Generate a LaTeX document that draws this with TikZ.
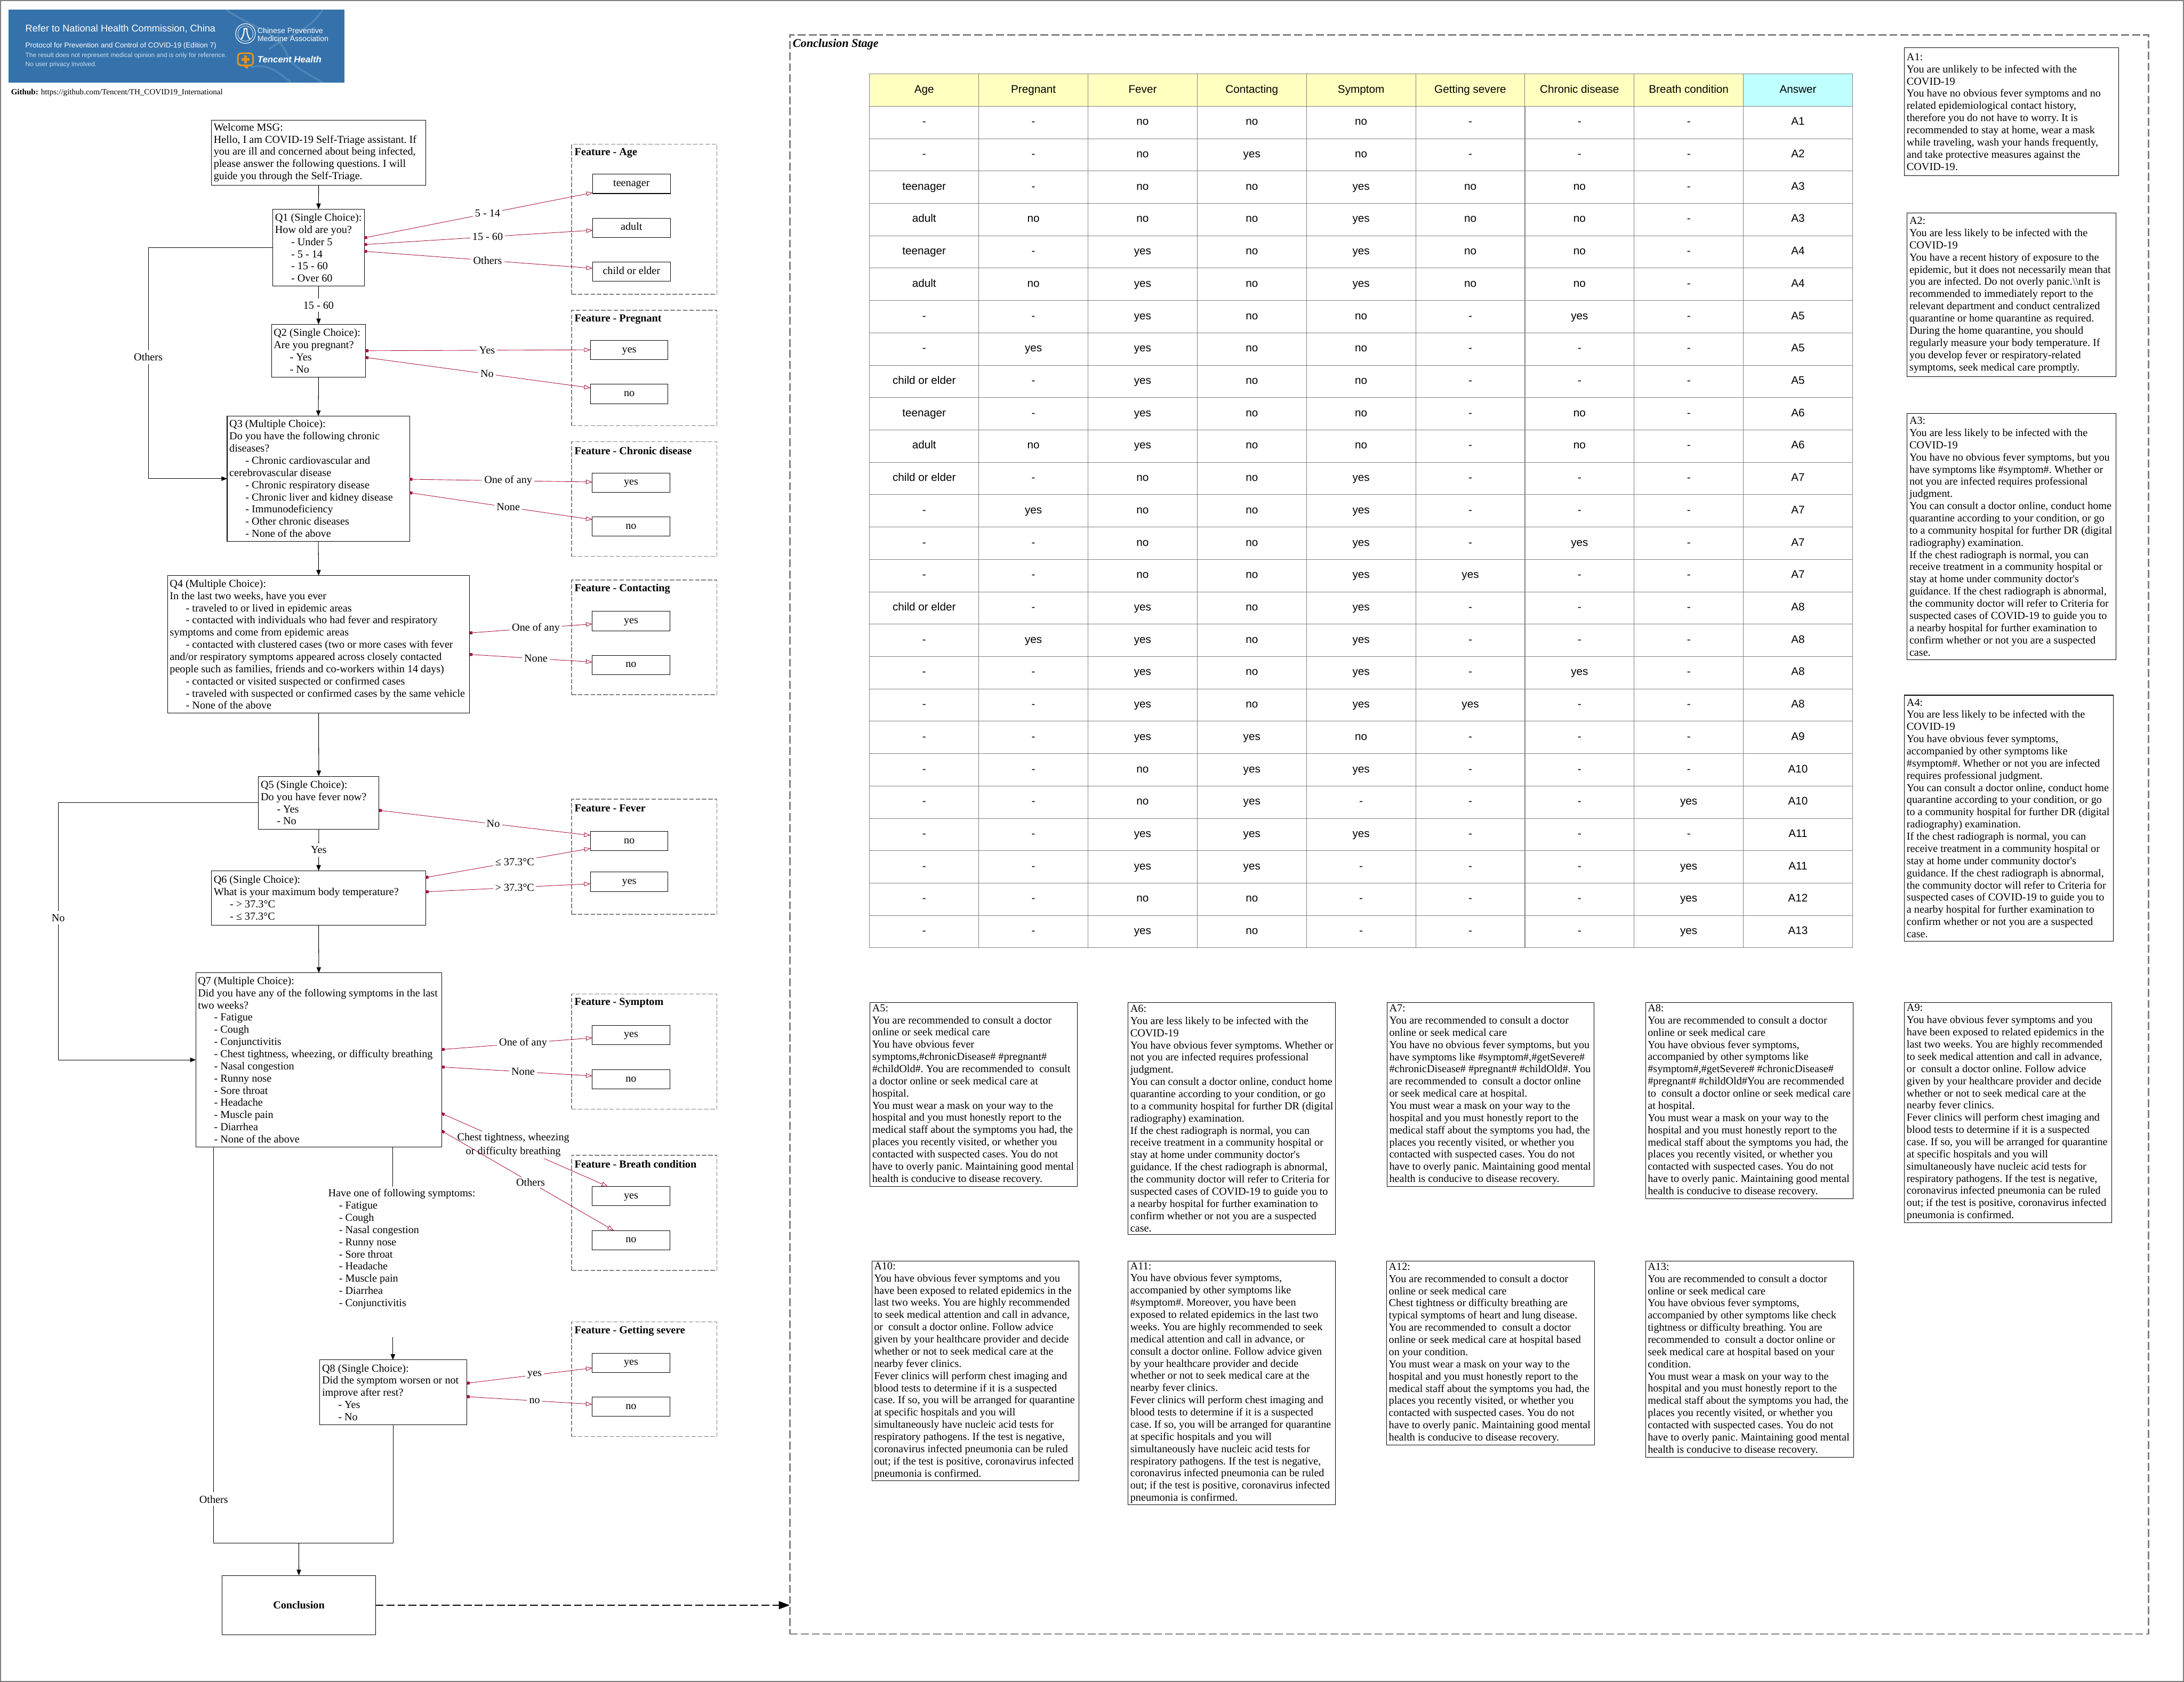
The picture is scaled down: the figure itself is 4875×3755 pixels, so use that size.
\documentclass[tikz,border=0pt]{standalone}
\usepackage{fontspec}
\setmainfont{Liberation Serif}
\setsansfont{Liberation Sans}
\usetikzlibrary{arrows.meta,positioning,calc}
\definecolor{FrameGray}{RGB}{128, 128, 128}
\definecolor{LinkRed}{RGB}{168, 16, 56}
\definecolor{BannerBlue}{RGB}{53, 114, 171}
\definecolor{BannerPale}{RGB}{205, 222, 238}
\definecolor{LogoOrange}{RGB}{232, 146, 26}
\definecolor{HeadYellow}{RGB}{255, 255, 192}
\definecolor{HeadCyan}{RGB}{192, 255, 255}

\newcommand{\boxfont}{\fontsize{6.83}{7.74}\selectfont\frenchspacing}
\newcommand{\ind}{\hspace*{0.36cm}}
\newcommand{\maskadvice}{You must wear a mask on your way to the\\hospital and you must honestly report to the\\medical staff about the symptoms you had, the\\places you recently visited, or whether you\\contacted with suspected cases. You do not\\have to overly panic. Maintaining good mental\\health is conducive to disease recovery.}
\newcommand{\consultadvice}{You can consult a doctor online, conduct home\\quarantine according to your condition, or go\\to a community hospital for further DR (digital\\radiography) examination.}
\newcommand{\radioadvice}{If the chest radiograph is normal, you can\\receive treatment in a community hospital or\\stay at home under community doctor\textquotesingle s\\guidance. If the chest radiograph is abnormal,\\the community doctor will refer to Criteria for\\suspected cases of COVID-19 to guide you to\\a nearby hospital for further examination to\\confirm whether or not you are a suspected\\case.}
\newcommand{\clinicadvice}{Fever clinics will perform chest imaging and\\blood tests to determine if it is a suspected\\case. If so, you will be arranged for quarantine\\at specific hospitals and you will\\simultaneously have nucleic acid tests for\\respiratory pathogens. If the test is negative,\\coronavirus infected pneumonia can be ruled\\out; if the test is positive, coronavirus infected\\pneumonia is confirmed.}

\tikzset{
  textbox/.style={draw, anchor=north west, align=flush left, inner xsep=0.05cm, inner ysep=0pt, outer sep=0pt, line width=0.35pt, font=\boxfont},
  plainlist/.style={anchor=north west, align=flush left, inner sep=0pt, font=\boxfont},
  featurebox/.style={draw=FrameGray, dashed, dash pattern=on 2.85pt off 1.15pt, line width=0.55pt, anchor=north west, minimum width=3.24cm, inner sep=0pt, outer sep=0pt},
  featuretitle/.style={anchor=west, inner sep=0pt, font=\boxfont\bfseries},
  optionbox/.style={draw, anchor=north west, minimum width=1.73cm, minimum height=0.43cm, inner sep=0pt, outer sep=0pt, line width=0.35pt, text height=4.6pt, text depth=1.5pt, font=\boxfont},
  flowline/.style={line width=0.35pt},
  flowarrow/.style={line width=0.35pt, -{Triangle[length=3.6pt,width=2.8pt]}},
  flowlabel/.style={fill=white, inner xsep=1pt, inner ysep=2pt, font=\boxfont},
  featurelink/.style={draw=LinkRed, line width=0.3pt, {Square[length=1.8pt,width=1.8pt,fill=LinkRed]}-{Triangle[open,length=4pt,width=2.8pt]}},
  linklabel/.style={pos=.54, fill=white, text=black, inner xsep=1.4pt, inner ysep=1pt, font=\boxfont},
  tablecell/.style={draw=FrameGray, line width=0.3pt, minimum width=2.438cm, minimum height=0.7226cm, inner sep=0pt, text height=5pt, text depth=1.5pt, font=\sffamily\fontsize{7}{8}\selectfont},
}

\begin{document}
\begin{tikzpicture}[x=0.01cm, y=-0.01cm]
  \useasboundingbox (0,0) rectangle (4875,3755);
  \draw[FrameGray, line width=0.5pt] (1,1) rectangle (4874,3754);

  % Banner
  \fill[BannerBlue] (19,21) rectangle (769,185);
  \begin{scope}[white, opacity=0.13, line width=1.2pt]
    \draw (505,22) .. controls (560,60) and (620,70) .. (640,120) .. controls (650,150) and (690,165) .. (720,184);
    \draw (720,22) .. controls (690,70) and (640,80) .. (600,110);
    \draw (560,150) .. controls (600,140) and (625,165) .. (650,184);
  \end{scope}
  \node[anchor=west, inner sep=0pt, text=white, font=\sffamily\fontsize{6.15}{7}\selectfont] (bannerline1) at (56,64) {Refer to National Health Commission, China};
  \node[anchor=west, inner sep=0pt, text=white, font=\sffamily\fontsize{4.58}{6}\selectfont] (bannerline2) at (56,102) {Protocol for Prevention and Control of COVID-19 (Edition 7)};
  \node[anchor=west, inner sep=0pt, text=BannerPale, font=\sffamily\fontsize{4.05}{5}\selectfont] (bannerline3) at (56,124) {The result does not represent medical opinion and is only for reference.};
  \node[anchor=west, inner sep=0pt, text=BannerPale, font=\sffamily\fontsize{4.05}{5}\selectfont] (bannerline4) at (56,144) {No user privacy involved.};
  % Logos
  \draw[white, line width=0.4pt] (548,75) circle (22);
  \draw[white, line width=0.25pt] (548,75) circle (17);
  \draw[white, line width=0.7pt] (538,88) .. controls (544,80) and (545,72) .. (545,64) -- (551,64) .. controls (551,72) and (552,80) .. (558,88);
  \node[anchor=west, inner sep=0pt, text=white, font=\sffamily\fontsize{4.8}{6}\selectfont] (assocline1) at (574,68) {Chinese Preventive};
  \node[anchor=west, inner sep=0pt, text=white, font=\sffamily\fontsize{4.8}{6}\selectfont] (assocline2) at (574,86) {Medicine Association};
  \draw[LogoOrange, line width=1pt, rounded corners=2pt] (531,119) rectangle (565,146);
  \fill[LogoOrange] (541,146) -- (556,146) -- (552,154) -- cycle;
  \fill[LogoOrange] (545,124) rectangle (551,142);
  \fill[LogoOrange] (539,130) rectangle (557,136);
  \node[anchor=west, inner sep=0pt, text=white, font=\sffamily\bfseries\itshape\fontsize{5.7}{7}\selectfont] (tencentname) at (574,133) {Tencent Health};

  \node[anchor=west, inner sep=0pt, font=\fontsize{5.1}{6}\selectfont] (github) at (24,207) {\textbf{Github:} https://github.com/Tencent/TH\_COVID19\_International};

  % Questions
  \node[textbox, minimum height=1.45cm, text width=4.68cm] (welcome) at (472,268) {Welcome MSG:\\Hello, I am COVID-19 Self-Triage assistant. If\\you are ill and concerned about being infected,\\please answer the following questions. I will\\guide you through the Self-Triage.};
  \node[textbox, minimum height=1.72cm, text width=1.94cm] (q1) at (609,467) {Q1 (Single Choice):\\How old are you?\\\ind- Under 5\\\ind- 5 - 14\\\ind- 15 - 60\\\ind- Over 60};
  \node[textbox, minimum height=1.18cm, text width=2cm] (q2) at (606,724) {Q2 (Single Choice):\\Are you pregnant?\\\ind- Yes\\\ind- No};
  \node[textbox, minimum height=2.79cm, text width=3.97cm] (q3) at (507,929) {Q3 (Multiple Choice):\\Do you have the following chronic\\diseases?\\\ind- Chronic cardiovascular and\\cerebrovascular disease\\\ind- Chronic respiratory disease\\\ind- Chronic liver and kidney disease\\\ind- Immunodeficiency\\\ind- Other chronic diseases\\\ind- None of the above};
  \node[textbox, minimum height=3.07cm, text width=6.64cm] (q4) at (374,1285) {Q4 (Multiple Choice):\\In the last two weeks, have you ever\\\ind- traveled to or lived in epidemic areas\\\ind- contacted with individuals who had fever and respiratory\\symptoms and come from epidemic areas\\\ind- contacted with clustered cases (two or more cases with fever\\and/or respiratory symptoms appeared across closely contacted\\people such as families, friends and co-workers within 14 days)\\\ind- contacted or visited suspected or confirmed cases\\\ind- traveled with suspected or confirmed cases by the same vehicle\\\ind- None of the above};
  \node[textbox, minimum height=1.18cm, text width=2.59cm] (q5) at (577,1733) {Q5 (Single Choice):\\Do you have fever now?\\\ind- Yes\\\ind- No};
  \node[textbox, minimum height=1.21cm, text width=4.68cm] (q6) at (472,1944) {Q6 (Single Choice):\\What is your maximum body temperature?\\\ind- > 37.3°C\\\ind- ≤ 37.3°C};
  \node[textbox, minimum height=3.88cm, text width=5.39cm] (q7) at (437,2172) {Q7 (Multiple Choice):\\Did you have any of the following symptoms in the last\\two weeks?\\\ind- Fatigue\\\ind- Cough\\\ind- Conjunctivitis\\\ind- Chest tightness, wheezing, or difficulty breathing\\\ind- Nasal congestion\\\ind- Runny nose\\\ind- Sore throat\\\ind- Headache\\\ind- Muscle pain\\\ind- Diarrhea\\\ind- None of the above};
  \node[plainlist] (symlist) at (732,2654) {Have one of following symptoms:\\\hspace*{0.24cm}- Fatigue\\\hspace*{0.24cm}- Cough\\\hspace*{0.24cm}- Nasal congestion\\\hspace*{0.24cm}- Runny nose\\\hspace*{0.24cm}- Sore throat\\\hspace*{0.24cm}- Headache\\\hspace*{0.24cm}- Muscle pain\\\hspace*{0.24cm}- Diarrhea\\\hspace*{0.24cm}- Conjunctivitis};
  \node[textbox, minimum height=1.45cm, text width=3.18cm] (q8) at (714,3036) {Q8 (Single Choice):\\Did the symptom worsen or not\\improve after rest?\\\ind- Yes\\\ind- No};
  \node[textbox, align=center, minimum height=1.33cm, text width=3.32cm, font=\boxfont\bfseries] (conclusion) at (496,3517) {Conclusion};

  % Feature groups
  \foreach \fname/\ftitle/\ftop/\fhigh in {fage/Age/322/3.35cm, fpreg/Pregnant/693/2.57cm, fchron/Chronic disease/986/2.56cm, fcontact/Contacting/1295/2.56cm, ffever/Fever/1784/2.57cm, fsymp/Symptom/2219/2.57cm, fbreath/Breath condition/2579/2.57cm, fsevere/Getting severe/2951/2.56cm} {
    \node[featurebox, minimum height=\fhigh] (\fname) at (1276,\ftop) {};
    \node[featuretitle] (\fname title) at (1282,\ftop+20) {Feature - \ftitle};
  }

  % Feature options
  \foreach \oname/\otext/\ox/\oy in {ageteen/teenager/1323/389, ageadult/adult/1323/487, agechild/child or elder/1323/585,
    pregyes/yes/1318/760, pregno/no/1318/858, chronyes/yes/1322/1056, chronno/no/1322/1154,
    contactyes/yes/1322/1365, contactno/no/1322/1463, feverno/no/1318/1856, feveryes/yes/1318/1947,
    sympyes/yes/1322/2289, sympno/no/1322/2388, breathyes/yes/1322/2649, breathno/no/1322/2747,
    severeyes/yes/1322/3021, severeno/no/1322/3119} {
    \node[optionbox] (\oname) at (\ox,\oy) {\otext};
  }

  % Flow
  \coordinate (otherslane) at (331,797);
  \coordinate (nolane) at (130,2049);
  \coordinate (lastlane) at (477,3347);
  \coordinate (merge) at (667,3445);
  \coordinate (symin) at (877,2649);
  \coordinate (symout) at (877,2985);

  \draw[flowarrow] (welcome.south) -- (q1.north);
  \draw[flowarrow] (q1.south) -- node[flowlabel] (agelabel) {15 - 60} (q2.north);
  \draw[flowarrow] (q2.south) -- (q3.north);
  \draw[flowarrow] (q3.south) -- (q4.north);
  \draw[flowarrow] (q4.south) -- (q5.north);
  \draw[flowarrow] (q5.south) -- node[flowlabel] (feverlabel) {Yes} (q6.north);
  \draw[flowarrow] (q6.south) -- (q7.north);
  \draw[flowarrow] (q1.west) -| (otherslane) |- (q3.west);
  \node[flowlabel] (otherslabel) at (otherslane) {Others};
  \draw[flowarrow] (q5.west) -| (nolane) |- (q7.west);
  \node[flowlabel] (nolabel) at (nolane) {No};
  \draw[flowline] (q7.south -| symin) -- (symin);
  \draw[flowarrow] (symout) -- (q8.north -| symout);
  \draw[flowline] (q7.south -| lastlane) -- (lastlane |- merge) -- (merge);
  \node[flowlabel] (lastlabel) at (lastlane) {Others};
  \draw[flowline] (q8.south) |- (merge);
  \draw[flowarrow] (merge) -- (conclusion.north);

  % Question to feature
  \foreach \src/\sy/\dst/\dy/\txt [count=\n] in {q1/531/ageteen/430/5 - 14, q1/546/ageadult/514/15 - 60, q1/561/agechild/599/Others,
    q2/783/pregyes/781/Yes, q2/798/pregno/866/No, q3/1070/chronyes/1076/One of any, q3/1100/chronno/1160/None,
    q4/1413/contactyes/1393/One of any, q4/1461/contactno/1478/None, q5/1809/feverno/1865/No,
    q6/1959/feverno/1894/≤ 37.3°C, q6/1991/feveryes/1973/> 37.3°C, q7/2343/sympyes/2317/One of any, q7/2382/sympno/2402/None,
    q8/3088/severeyes/3054/yes, q8/3118/severeno/3135/no} {
    \draw[featurelink] (\src.east |- 0,\sy) -- node[linklabel] (link\n) {\txt} (\dst.west |- 0,\dy);
  }
  \draw[featurelink] (q7.east |- 0,2486) -- node[linklabel, pos=.43, align=center, font=\fontsize{6.83}{9.1}\selectfont] (chestlabel) {Chest tightness, wheezing\\or difficulty breathing} (breathyes.north -| 1357,0);
  \draw[featurelink] (q7.east |- 0,2525) -- node[linklabel, pos=.516] (breathothers) {Others} (breathno.north -| 1370,0);

  % Conclusion stage
  \node[draw=FrameGray, dashed, dash pattern=on 5pt off 2pt, line width=0.85pt, anchor=north west, minimum width=30.31cm, minimum height=35.68cm, inner sep=0pt, outer sep=0pt] (stage) at (1763,78) {};
  \node[anchor=west, inner sep=0pt, font=\fontsize{7.5}{9}\selectfont\bfseries\itshape] (stagetitle) at (1769,99) {Conclusion Stage};
  \draw[line width=0.9pt, dashed, dash pattern=on 5pt off 2pt, -{Triangle[length=7pt,width=5pt]}] (conclusion.east) -- (stage.west |- conclusion.east);

  % Table
  \foreach \head/\col [count=\k] in {Age/HeadYellow, Pregnant/HeadYellow, Fever/HeadYellow, Contacting/HeadYellow, Symptom/HeadYellow, Getting severe/HeadYellow, Chronic disease/HeadYellow, Breath condition/HeadYellow, Answer/HeadCyan} {
    \node[tablecell, fill=\col] (head\k) at (1941+\k*243.8-121.9, 201.1) {\head};
  }
  \foreach \row [count=\r] in {
    {-,-,no,no,no,-,-,-,A1}, {-,-,no,yes,no,-,-,-,A2},
    {teenager,-,no,no,yes,no,no,-,A3}, {adult,no,no,no,yes,no,no,-,A3},
    {teenager,-,yes,no,yes,no,no,-,A4}, {adult,no,yes,no,yes,no,no,-,A4},
    {-,-,yes,no,no,-,yes,-,A5}, {-,yes,yes,no,no,-,-,-,A5}, {child or elder,-,yes,no,no,-,-,-,A5},
    {teenager,-,yes,no,no,-,no,-,A6}, {adult,no,yes,no,no,-,no,-,A6},
    {child or elder,-,no,no,yes,-,-,-,A7}, {-,yes,no,no,yes,-,-,-,A7}, {-,-,no,no,yes,-,yes,-,A7}, {-,-,no,no,yes,yes,-,-,A7},
    {child or elder,-,yes,no,yes,-,-,-,A8}, {-,yes,yes,no,yes,-,-,-,A8}, {-,-,yes,no,yes,-,yes,-,A8}, {-,-,yes,no,yes,yes,-,-,A8},
    {-,-,yes,yes,no,-,-,-,A9}, {-,-,no,yes,yes,-,-,-,A10}, {-,-,no,yes,-,-,-,yes,A10},
    {-,-,yes,yes,yes,-,-,-,A11}, {-,-,yes,yes,-,-,-,yes,A11}, {-,-,no,no,-,-,-,yes,A12}, {-,-,yes,no,-,-,-,yes,A13}} {
    \foreach \cell [count=\k] in \row {
      \node[tablecell] (c\r-\k) at (1941+\k*243.8-121.9, 201.1+\r*72.26) {\cell};
    }
  }

  % Answers
  \node[textbox, minimum height=2.85cm, text width=4.68cm] (a1) at (4251,107) {A1:\\You are unlikely to be infected with the\\COVID-19\\You have no obvious fever symptoms and no\\related epidemiological contact history,\\therefore you do not have to worry. It is\\recommended to stay at home, wear a mask\\while traveling, wash your hands frequently,\\and take protective measures against the\\COVID-19.};
  \node[textbox, minimum height=3.65cm, text width=4.56cm] (a2) at (4257,476) {A2:\\You are less likely to be infected with the\\COVID-19\\You have a recent history of exposure to the\\epidemic, but it does not necessarily mean that\\you are infected. Do not overly panic.\textbackslash\textbackslash nIt is\\recommended to immediately report to the\\relevant department and conduct centralized\\quarantine or home quarantine as required.\\During the home quarantine, you should\\regularly measure your body temperature. If\\you develop fever or respiratory-related\\symptoms, seek medical care promptly.};
  \node[textbox, minimum height=5.49cm, text width=4.56cm] (a3) at (4257,923) {A3:\\You are less likely to be infected with the\\COVID-19\\You have no obvious fever symptoms, but you\\have symptoms like \#symptom\#. Whether or\\not you are infected requires professional\\judgment.\\\consultadvice\\\radioadvice};
  \node[textbox, minimum height=5.49cm, text width=4.56cm] (a4) at (4251,1552) {A4:\\You are less likely to be infected with the\\COVID-19\\You have obvious fever symptoms,\\accompanied by other symptoms like\\\#symptom\#. Whether or not you are infected\\requires professional judgment.\\\consultadvice\\\radioadvice};
  \node[textbox, minimum height=4.1cm, text width=4.52cm] (a5) at (1942,2238) {A5:\\You are recommended to consult a doctor\\online or seek medical care\\You have obvious fever\\symptoms,\#chronicDisease\# \#pregnant\#\\\#childOld\#. You are recommended to\ \ consult\\a doctor online or seek medical care at\\hospital.\\\maskadvice};
  \node[textbox, minimum height=5.17cm, text width=4.53cm] (a6) at (2518,2238) {A6:\\You are less likely to be infected with the\\COVID-19\\You have obvious fever symptoms. Whether or\\not you are infected requires professional\\judgment.\\\consultadvice\\\radioadvice};
  \node[textbox, minimum height=4.11cm, text width=4.52cm] (a7) at (3096,2238) {A7:\\You are recommended to consult a doctor\\online or seek medical care\\You have no obvious fever symptoms, but you\\have symptoms like \#symptom\#,\#getSevere\#\\\#chronicDisease\# \#pregnant\# \#childOld\#. You\\are recommended to\ \ consult a doctor online\\or seek medical care at hospital.\\\maskadvice};
  \node[textbox, minimum height=4.38cm, text width=4.53cm] (a8) at (3673,2238) {A8:\\You are recommended to consult a doctor\\online or seek medical care\\You have obvious fever symptoms,\\accompanied by other symptoms like\\\#symptom\#,\#getSevere\# \#chronicDisease\#\\\#pregnant\# \#childOld\#You are recommended\\to\ \ consult a doctor online or seek medical care\\at hospital.\\\maskadvice};
  \node[textbox, minimum height=4.91cm, text width=4.52cm] (a9) at (4251,2238) {A9:\\You have obvious fever symptoms and you\\have been exposed to related epidemics in the\\last two weeks. You are highly recommended\\to seek medical attention and call in advance,\\or\ \ consult a doctor online. Follow advice\\given by your healthcare provider and decide\\whether or not to seek medical care at the\\nearby fever clinics.\\\clinicadvice};
  \node[textbox, minimum height=4.9cm, text width=4.52cm] (a10) at (1946,2815) {A10:\\You have obvious fever symptoms and you\\have been exposed to related epidemics in the\\last two weeks. You are highly recommended\\to seek medical attention and call in advance,\\or\ \ consult a doctor online. Follow advice\\given by your healthcare provider and decide\\whether or not to seek medical care at the\\nearby fever clinics.\\\clinicadvice};
  \node[textbox, minimum height=5.44cm, text width=4.53cm] (a11) at (2518,2815) {A11:\\You have obvious fever symptoms,\\accompanied by other symptoms like\\\#symptom\#. Moreover, you have been\\exposed to related epidemics in the last two\\weeks. You are highly recommended to seek\\medical attention and call in advance, or\\consult a doctor online. Follow advice given\\by your healthcare provider and decide\\whether or not to seek medical care at the\\nearby fever clinics.\\\clinicadvice};
  \node[textbox, minimum height=4.11cm, text width=4.54cm] (a12) at (3095,2815) {A12:\\You are recommended to consult a doctor\\online or seek medical care\\Chest tightness or difficulty breathing are\\typical symptoms of heart and lung disease.\\You are recommended to\ \ consult a doctor\\online or seek medical care at hospital based\\on your condition.\\\maskadvice};
  \node[textbox, minimum height=4.38cm, text width=4.54cm] (a13) at (3673,2815) {A13:\\You are recommended to consult a doctor\\online or seek medical care\\You have obvious fever symptoms,\\accompanied by other symptoms like check\\tightness or difficulty breathing. You are\\recommended to\ \ consult a doctor online or\\seek medical care at hospital based on your\\condition.\\\maskadvice};
\end{tikzpicture}
\end{document}
